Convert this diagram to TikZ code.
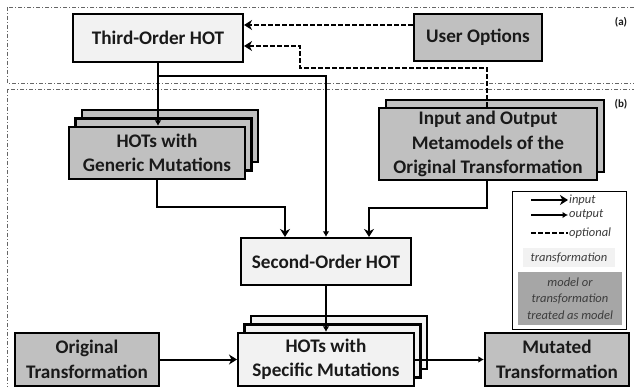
\documentclass[tikz,border=0pt]{standalone}
\usepackage{fontspec}
\setmainfont{Carlito}
\usetikzlibrary{arrows.meta,positioning,calc}
\definecolor{lightfill}{HTML}{F2F2F2}
\definecolor{darkfill}{HTML}{C0C0C0}
\definecolor{legdark}{HTML}{A6A6A6}
\definecolor{txt}{HTML}{1A1A1A}
\definecolor{frame}{HTML}{666666}
\tikzset{
  box/.style={draw=black, line width=2.1pt, align=center, inner sep=0pt,
    font=\fontsize{19.2}{24.5}\selectfont\bfseries, text=txt},
  tbox/.style={box, fill=lightfill},
  mbox/.style={box, fill=darkfill},
  layer/.style={draw=black, line width=2.1pt, inner sep=0pt},
  conn/.style={line width=2pt, draw=black},
  outarr/.style={conn, -{Latex[length=5.5pt,width=6.5pt]}},
  inarr/.style={conn, -{Stealth[length=8pt,width=10pt,inset=2.5pt]}},
  optarr/.style={conn, dash pattern=on 4.5pt off 2.5pt, -{Stealth[length=8pt,width=10pt,inset=2.5pt]}},
  region/.style={draw=frame, line width=0.9pt, dash pattern=on 4pt off 2pt on 1pt off 2pt},
  tag/.style={font=\fontsize{11}{13}\selectfont\bfseries, text=txt},
  legtxt/.style={font=\fontsize{12.5}{16.5}\selectfont\itshape, text=txt!85!white, align=center},
}
\begin{document}
\begin{tikzpicture}[x=1pt,y=-1pt]
\useasboundingbox (0,0) rectangle (634,387);
\clip (0,0) rectangle (634,387);
\fill[white] (0,0) rectangle (634,387);
% regions
\draw[region] (7,7) rectangle (645,83);
\draw[region] (7,89) rectangle (645,400);
\node[tag] (taga) at (621,22) {(a)};
\node[tag] (tagb) at (621,104) {(b)};
% top
\node[tbox, minimum width=170pt, minimum height=48pt] (third) at (158,38) {Third-Order HOT};
\node[mbox, minimum width=128pt, minimum height=47pt] (user) at (478,37.5) {User Options};
% generic mutations (stack)
\node[layer, fill=darkfill, minimum width=176pt, minimum height=52pt] (gen3) at (170,136) {};
\node[layer, fill=darkfill, minimum width=176pt, minimum height=52pt] (gen2) at (163.5,144.5) {};
\node[mbox, minimum width=176pt, minimum height=52pt] (gen) at (157,153) {HOTs with\\Generic Mutations};
% metamodels (stack)
\node[layer, fill=darkfill, minimum width=218pt, minimum height=72pt] (meta2) at (495,136) {};
\node[mbox, minimum width=218pt, minimum height=72pt] (meta) at (488,144) {Input and Output\\Metamodels of the\\Original Transformation};
% second order
\node[tbox, minimum width=170pt, minimum height=47pt] (second) at (326,261.5) {Second-Order HOT};
% specific mutations (stack)
\node[layer, fill=lightfill, minimum width=176pt, minimum height=53pt] (spec3) at (339,342.5) {};
\node[layer, fill=lightfill, minimum width=176pt, minimum height=53pt] (spec2) at (332.5,351) {};
\node[tbox, minimum width=176pt, minimum height=53pt] (spec) at (326,359.5) {HOTs with\\Specific Mutations};
\node[mbox, minimum width=144pt, minimum height=53pt] (orig) at (87,359.5) {Original\\Transformation};
\node[mbox, minimum width=144pt, minimum height=53pt] (mut) at (557,359.5) {Mutated\\Transformation};
% connectors
\coordinate (j1) at (158,76);
\coordinate (g2) at (285,207);
\coordinate (m2) at (369,208);
\coordinate (d1) at (487,68);
\coordinate (d2) at (300,46);
\draw[outarr] (third.south) -- (third.south |- gen.north);
\draw[outarr] (j1) -| (second.north);
\draw[inarr] (gen.south) |- (g2) -- (g2 |- second.north);
\draw[inarr] (meta.south -| d1) |- (m2) -- (m2 |- second.north);
\draw[outarr] (second.south) -- (spec.north);
\draw[inarr] (orig.east) -- (spec.west);
\draw[outarr] (spec.east) -- (mut.west);
\draw[optarr] (user.west |- 0,25) -- (third.east |- 0,25);
\draw[optarr] (meta.north -| d1) -- (d1) -| (d2) -- (third.east |- d2);
% legend
\node[draw=black, line width=1pt, fill=white, minimum width=114pt, minimum height=137pt, inner sep=0pt] (legend) at (569,260.5) {};
\coordinate (li1) at (531,200); \coordinate (li2) at (568,200);
\coordinate (lo1) at (531,215); \coordinate (lo2) at (568,215);
\coordinate (lp1) at (531,233); \coordinate (lp2) at (568,233);
\draw[inarr, line width=1.8pt] (li1) -- (li2);
\draw[outarr, line width=1.8pt] (lo1) -- (lo2);
\draw[conn, line width=1.8pt, dash pattern=on 4.5pt off 2.5pt] (lp1) -- (lp2);
\node[legtxt, anchor=west, inner sep=1pt] (lin) at (li2) {input};
\node[legtxt, anchor=west, inner sep=1pt] (lout) at (lo2) {output};
\node[legtxt, anchor=west, inner sep=1pt] (lopt) at (lp2) {optional};
\node[legtxt, fill=lightfill, minimum width=92pt, minimum height=19pt, inner sep=0pt] (ltr) at (569,257.5) {transformation};
\node[legtxt, fill=legdark, minimum width=104pt, minimum height=53pt, inner sep=0pt] (lmod) at (570,298.5) {model or\\transformation\\treated as model};
\end{tikzpicture}
\end{document}
